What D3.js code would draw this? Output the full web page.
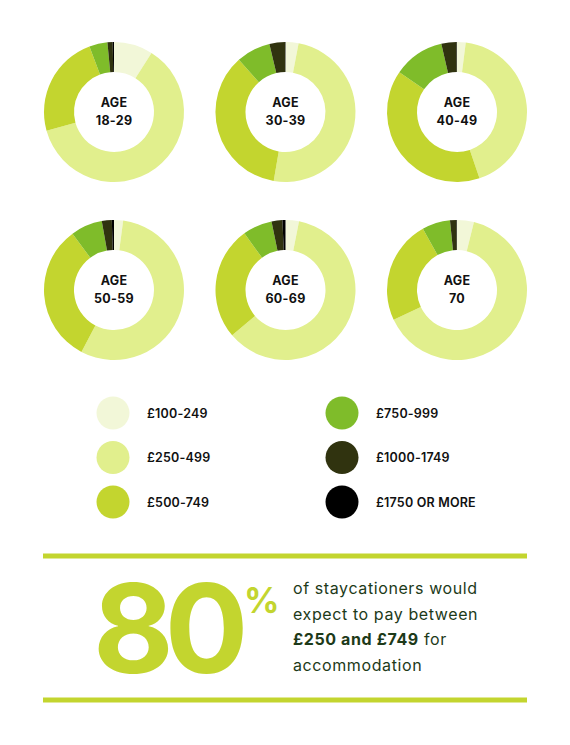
<!DOCTYPE html>
<html>
<head>
<meta charset="utf-8">
<script src="https://cdn.jsdelivr.net/npm/d3@7"></script>
<style>
  body { margin: 0; background: #fff; }
  svg { display: block; }
</style>
</head>
<body>
<svg id="chart"></svg>
<script>
// price bands (legend order = slice order, clockwise from 12 o'clock)
const bands = ["£100-249", "£250-499", "£500-749", "£750-999", "£1000-1749", "£1750 OR MORE"];
const ages = ["18-29", "30-39", "40-49", "50-59", "60-69", "70"];

// % of respondents in each band, per age group
const share18to29 = [9.0, 61.7, 23.6, 4.2, 1.2, 0.3];
const share30to39 = [3.0, 49.7, 35.7, 7.9, 3.6, 0.1];
const share40to49 = [2.0, 42.8, 39.8, 11.8, 3.5, 0.1];
const share50to59 = [2.1, 55.6, 32.2, 7.3, 2.3, 0.5];
const share60to69 = [3.1, 60.7, 26.2, 6.8, 2.5, 0.7];
const share70 = [3.9, 64.1, 23.9, 6.5, 1.5, 0.1];

const headline = "80";
const blurb = [
  [{ t: "of staycationers would", b: false }],
  [{ t: "expect to pay between", b: false }],
  [{ t: "£250 and £749", b: true }, { t: " for", b: false }],
  [{ t: "accommodation", b: false }]
];

const width = 570;
const height = 745;
const colors = ["#f2f7d8", "#e1ef8d", "#c3d52f", "#7fbc2a", "#30330f", "#000000"];
const lime = "#c3d52f";
const ink = "#1d3a19";
const font = "Inter, 'Noto Sans', sans-serif";

const svg = d3.select("#chart")
  .attr("width", width)
  .attr("height", height);

const color = d3.scaleOrdinal().domain(bands).range(colors);

// donut grid
const shares = [share18to29, share30to39, share40to49, share50to59, share60to69, share70];
const colX = d3.scalePoint().domain([0, 1, 2]).range([114, 457]);
const rowY = d3.scalePoint().domain([0, 1]).range([112, 290]);

const pie = d3.pie().sort(null).value(d => d.v);
const arc = d3.arc().innerRadius(40).outerRadius(70);

ages.forEach(function(age, i) {
  const g = svg.append("g")
    .attr("transform", `translate(${colX(i % 3)},${rowY(Math.floor(i / 3))})`);

  const data = bands.map((b, j) => ({ band: b, v: shares[i][j] }));

  g.selectAll("path")
    .data(pie(data))
    .enter()
    .append("path")
    .attr("d", arc)
    .attr("fill", d => color(d.data.band));

  g.append("text")
    .attr("text-anchor", "middle")
    .attr("y", -5)
    .attr("font-family", font)
    .attr("font-size", 12.5)
    .attr("font-weight", 700)
    .attr("letter-spacing", 0.3)
    .attr("fill", "#111")
    .text("AGE");

  g.append("text")
    .attr("text-anchor", "middle")
    .attr("y", 13)
    .attr("font-family", font)
    .attr("font-size", 12.5)
    .attr("font-weight", 700)
    .attr("letter-spacing", 0.3)
    .attr("fill", "#111")
    .text(age);
});

// legend
const legX = d3.scalePoint().domain([0, 1]).range([113, 342]);
const legY = d3.scalePoint().domain([0, 1, 2]).range([413, 502]);

const leg = svg.append("g");
bands.forEach(function(b, i) {
  const col = Math.floor(i / 3), row = i % 3;
  const item = leg.append("g")
    .attr("transform", `translate(${legX(col)},${legY(row)})`);
  item.append("circle")
    .attr("r", 16.5)
    .attr("fill", color(b));
  item.append("text")
    .attr("x", 34)
    .attr("y", 4.5)
    .attr("font-family", font)
    .attr("font-size", 12.5)
    .attr("font-weight", 600)
    .attr("letter-spacing", 0.2)
    .attr("fill", "#111")
    .text(b);
});

// callout box
[556, 700].forEach(function(y) {
  svg.append("rect")
    .attr("x", 43)
    .attr("y", y - 2.5)
    .attr("width", 484)
    .attr("height", 5)
    .attr("fill", lime);
});

svg.append("text")
  .attr("x", 93)
  .attr("y", 673)
  .attr("font-family", font)
  .attr("font-size", 124)
  .attr("font-weight", 700)
  .attr("letter-spacing", -9)
  .attr("fill", lime)
  .text(headline);

svg.append("text")
  .attr("x", 244)
  .attr("y", 613)
  .attr("font-family", font)
  .attr("font-size", 35)
  .attr("font-weight", 700)
  .attr("fill", lime)
  .text("%");

const body = svg.append("text")
  .attr("font-family", font)
  .attr("font-size", 16)
  .attr("letter-spacing", 0.6)
  .attr("fill", ink);

blurb.forEach(function(line, i) {
  const tl = body.append("tspan")
    .attr("x", 293)
    .attr("y", 594 + i * 25.7);
  line.forEach(function(part, k) {
    (k === 0 ? tl : body.append("tspan"))
      .attr("font-weight", part.b ? 700 : 400)
      .text(part.t);
  });
});
</script>
</body>
</html>
